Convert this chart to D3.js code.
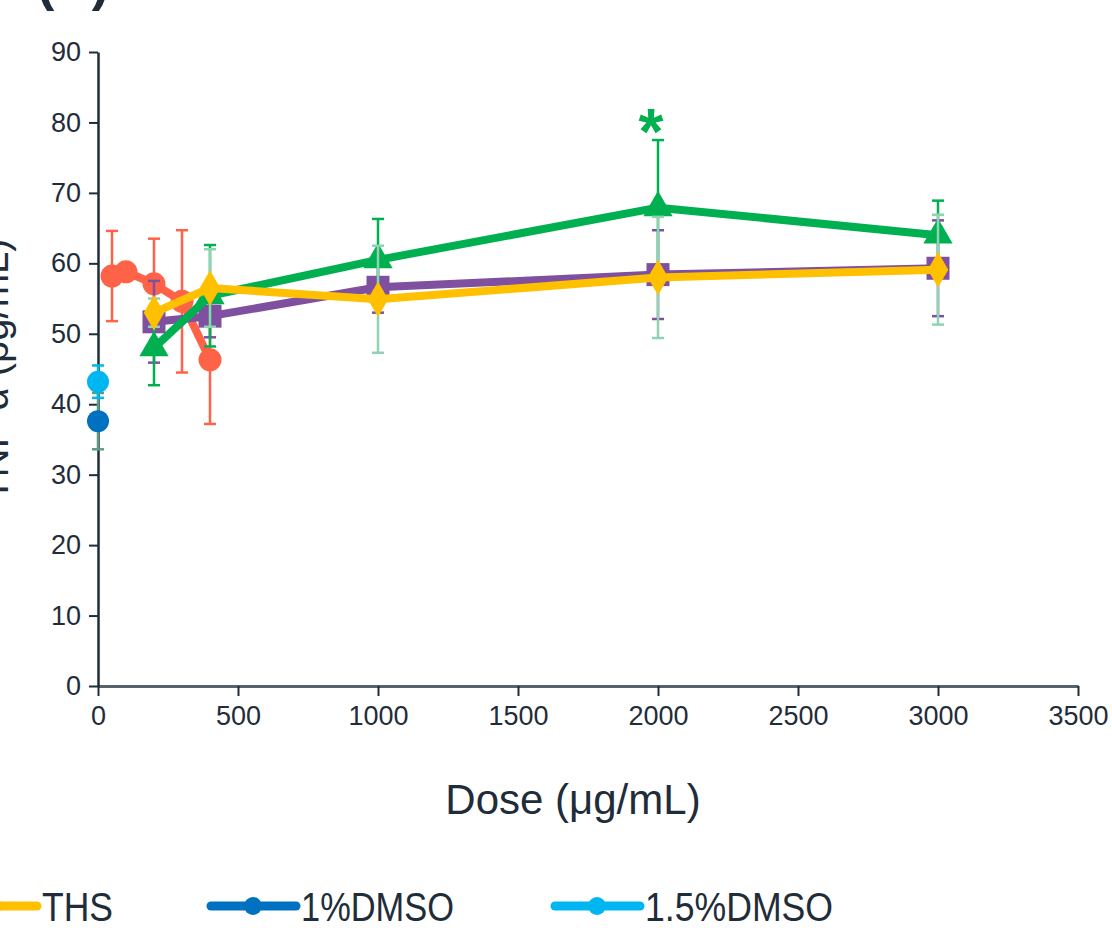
<!DOCTYPE html>
<html>
<head>
<meta charset="utf-8">
<script src="https://cdn.jsdelivr.net/npm/d3@7"></script>
<style>
  body { margin: 0; background: #fff; }
  svg { display: block; font-family: "Liberation Sans", Arial, sans-serif; }
</style>
</head>
<body>
<svg width="1112" height="928"></svg>
<script>
const width = 1112
const height = 928
const axisColor = "#1f2d3a"

// doses (µg/mL)
const lowDoses = [50, 100, 200, 300, 400]
const highDoses = [200, 400, 1000, 2000, 3000]

// TNF-α means and error (pg/mL)
const redMean = [58.2, 58.8, 57.1, 54.6, 46.3]
const redErr = [6.4, 1.0, 6.4, 10.1, 9.1]
const purpleMean = [51.7, 52.5, 56.6, 58.4, 59.3]
const purpleErr = [5.8, 3.0, 3.6, 6.3, 6.8]
const greenMean = [48.0, 55.4, 60.5, 67.9, 64.0]
const greenErr = [5.3, 7.2, 5.8, 9.6, 4.9]
const thsMean = [53.0, 56.5, 54.9, 58.0, 59.1]
const thsErr = [2.0, 5.5, 7.6, 8.6, 7.8]
const dmso1Mean = [37.6]
const dmso1Err = [4.0]
const dmso15Mean = [43.2]
const dmso15Err = [2.3]

const yTicks = [0, 10, 20, 30, 40, 50, 60, 70, 80, 90]
const xTicks = [0, 500, 1000, 1500, 2000, 2500, 3000, 3500]

const series = [
    {name: "red", doses: lowDoses, mean: redMean, err: redErr, color: "#ff6347", errColor: "#ff6347", shape: "circle", size: 11.5},
    {name: "purple", doses: highDoses, mean: purpleMean, err: purpleErr, color: "#7f4fa0", errColor: "#7f4fa0", shape: "square", size: 23},
    {name: "green", doses: highDoses, mean: greenMean, err: greenErr, color: "#00b050", errColor: "#00b050", shape: "triangle", size: 26},
    {name: "THS", doses: highDoses, mean: thsMean, err: thsErr, color: "#ffc000", errColor: "#8fd3b3", shape: "diamond", size: 27},
    {name: "1%DMSO", doses: [0], mean: dmso1Mean, err: dmso1Err, color: "#0070c0", errColor: "#5c9c82", shape: "circle", size: 11},
    {name: "1.5%DMSO", doses: [0], mean: dmso15Mean, err: dmso15Err, color: "#00b6f0", errColor: "#00b6f0", shape: "circle", size: 11}
]

const legendItems = [
    {name: "THS", color: "#ffc000", shape: "diamond", x: -48, w: 71},
    {name: "1%DMSO", color: "#0070c0", shape: "circle", x: 211, w: 153},
    {name: "1.5%DMSO", color: "#00b6f0", shape: "circle", x: 555, w: 188}
]

const xScale = d3.scaleLinear().domain([0, 3500]).range([98, 1078])
const yScale = d3.scaleLinear().domain([0, 90]).range([686, 52])

const svg = d3.select("svg")

// panel label, mostly cut off at top (as in the source figure)
svg.append("text")
    .attr("x", 73)
    .attr("y", 0)
    .attr("text-anchor", "middle")
    .style("font-size", "52px")
    .style("font-weight", "bold")
    .style("fill", axisColor)
    .text("(B)")

const yAxis = d3.axisLeft(yScale).tickValues(yTicks).tickSize(9).tickPadding(8).tickSizeOuter(0)
const xAxis = d3.axisBottom(xScale).tickValues(xTicks).tickFormat(d3.format("d")).tickSize(10).tickPadding(10).tickSizeOuter(0)

const gx = svg.append("g")
    .attr("transform", `translate(0, ${yScale(0)})`)
    .call(xAxis)
gx.select(".domain").attr("stroke", "#56626c").attr("stroke-width", 3)
gx.selectAll(".tick line").attr("stroke", axisColor).attr("stroke-width", 2)
gx.selectAll(".tick text").style("font-size", "27px").style("fill", axisColor)

const gy = svg.append("g")
    .attr("transform", `translate(${xScale(0)}, 0)`)
    .call(yAxis)
gy.select(".domain").attr("stroke", axisColor).attr("stroke-width", 2.5)
gy.selectAll(".tick line").attr("stroke", axisColor).attr("stroke-width", 2)
gy.selectAll(".tick text").style("font-size", "27px").style("fill", axisColor)

// axis titles
svg.append("text")
    .attr("x", 573)
    .attr("y", 814)
    .attr("text-anchor", "middle")
    .style("font-size", "42px")
    .style("fill", axisColor)
    .text("Dose (μg/mL)")

svg.append("text")
    .attr("transform", `translate(8, 370) rotate(-90)`)
    .attr("text-anchor", "middle")
    .style("font-size", "40px")
    .style("fill", axisColor)
    .text("TNF-α (pg/mL)")

const symbolFor = (shape, size) => {
    if (shape === "circle") return d3.symbol().type(d3.symbolCircle).size(Math.PI * size * size)()
    if (shape === "square") return d3.symbol().type(d3.symbolSquare).size(size * size)()
    if (shape === "triangle") return d3.symbol().type(d3.symbolTriangle).size(size * size * 0.55)()
    return d3.symbol().type(d3.symbolDiamond).size(size * size * 0.5)()
}

const line = d3.line().x(d => xScale(d.dose)).y(d => yScale(d.mean))

series.forEach(s => {
    const pts = s.doses.map((dose, i) => ({dose: dose, mean: s.mean[i], err: s.err[i]}))
    const g = svg.append("g").attr("class", "series")

    const eb = g.selectAll(".err")
        .data(pts)
        .enter()
        .append("g")
            .attr("class", "err")
            .style("stroke", s.errColor)
            .style("stroke-width", 2.5)
    eb.append("line")
        .attr("x1", d => xScale(d.dose))
        .attr("x2", d => xScale(d.dose))
        .attr("y1", d => yScale(d.mean - d.err))
        .attr("y2", d => yScale(d.mean + d.err))
    eb.append("line")
        .attr("x1", d => xScale(d.dose) - 6)
        .attr("x2", d => xScale(d.dose) + 6)
        .attr("y1", d => yScale(d.mean + d.err))
        .attr("y2", d => yScale(d.mean + d.err))
    eb.append("line")
        .attr("x1", d => xScale(d.dose) - 6)
        .attr("x2", d => xScale(d.dose) + 6)
        .attr("y1", d => yScale(d.mean - d.err))
        .attr("y2", d => yScale(d.mean - d.err))

    if (pts.length > 1) {
        g.append("path")
            .datum(pts)
            .attr("d", line)
            .style("fill", "none")
            .style("stroke", s.color)
            .style("stroke-width", 8)
            .style("stroke-linejoin", "round")
    }

    g.selectAll(".mark")
        .data(pts)
        .enter()
        .append("path")
            .attr("class", "mark")
            .attr("d", symbolFor(s.shape, s.size))
            .attr("transform", d => `translate(${xScale(d.dose)}, ${yScale(d.mean)})`)
            .style("fill", s.color)
})

// significance marker
svg.append("text")
    .attr("x", xScale(2000) - 7)
    .attr("y", yScale(greenMean[3] + greenErr[3]) + 14)
    .attr("text-anchor", "middle")
    .style("font-size", "64px")
    .style("font-weight", "bold")
    .style("fill", "#00b050")
    .text("*")

// legend
const legend = svg.selectAll(".legend")
    .data(legendItems)
    .enter()
    .append("g")
        .attr("class", "legend")
        .attr("transform", d => `translate(${d.x}, 906)`)

legend.append("line")
    .attr("x1", 0)
    .attr("x2", 85)
    .style("stroke", d => d.color)
    .style("stroke-width", 9)
    .style("stroke-linecap", "round")

legend.append("path")
    .attr("d", d => symbolFor(d.shape, d.shape === "circle" ? 9 : 24))
    .attr("transform", "translate(42, 0)")
    .style("fill", d => d.color)

legend.append("text")
    .attr("x", 90)
    .attr("y", 15)
    .style("font-size", "40px")
    .style("fill", axisColor)
    .attr("textLength", d => d.w)
    .attr("lengthAdjust", "spacingAndGlyphs")
    .text(d => d.name)
</script>
</body>
</html>
